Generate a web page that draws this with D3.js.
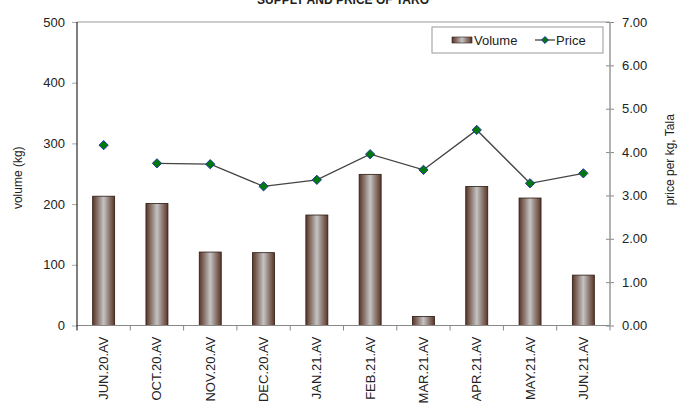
<!DOCTYPE html>
<html>
  <head>
    <meta charset="utf-8">
    <script src="https://cdn.jsdelivr.net/npm/d3@7"></script>
    <style>
      body { margin: 0; background: #fff; }
      text { font-family: "Liberation Sans", Arial, sans-serif; fill: #222; }
    </style>
  </head>
  <body>
    <script>
      // Data
      var months = ["JUN.20.AV", "OCT.20.AV", "NOV.20.AV", "DEC.20.AV", "JAN.21.AV",
                    "FEB.21.AV", "MAR.21.AV", "APR.21.AV", "MAY.21.AV", "JUN.21.AV"];
      var volume = [213, 201, 121, 120, 182, 249, 15, 229, 210, 83];
      var price = [4.16, 3.74, 3.72, 3.21, 3.36, 3.95, 3.59, 4.51, 3.28, 3.51];
      var volumeTicks = [0, 100, 200, 300, 400, 500];
      var priceTicks = [0, 1, 2, 3, 4, 5, 6, 7];

      var width = 679, height = 408;
      // plot area edges (don't call it "top", window.top is read-only)
      var plotL = 77, plotR = 610, plotT = 22, plotB = 325.5;

      var svg = d3.select("body").append("svg")
                  .attr("width", width)
                  .attr("height", height);

      // Bar gradient: brown edges, light grey centre
      var grad = svg.append("defs").append("linearGradient")
                    .attr("id", "barGrad")
                    .attr("x1", "0%").attr("x2", "100%")
                    .attr("y1", "0%").attr("y2", "0%");
      grad.append("stop").attr("offset", "0%").attr("stop-color", "#5b3526");
      grad.append("stop").attr("offset", "25%").attr("stop-color", "#8e7a72");
      grad.append("stop").attr("offset", "50%").attr("stop-color", "#c4c4c4");
      grad.append("stop").attr("offset", "75%").attr("stop-color", "#8e7a72");
      grad.append("stop").attr("offset", "100%").attr("stop-color", "#5b3526");

      var x = d3.scaleBand().domain(months).range([plotL, plotR]);
      var yVol = d3.scaleLinear().domain([0, 500]).range([plotB, plotT]);
      var yPrice = d3.scaleLinear().domain([0, 7]).range([plotB, plotT]);

      // Title (cut off at top of picture)
      svg.append("text")
         .attr("x", 343).attr("y", 4)
         .attr("text-anchor", "middle")
         .style("font-size", "12px")
         .style("font-weight", "bold")
         .text("SUPPLY AND PRICE OF TARO");

      // Top border
      svg.append("line")
         .attr("x1", plotL).attr("x2", plotR)
         .attr("y1", plotT).attr("y2", plotT)
         .attr("stroke", "#999").attr("stroke-width", 1);

      // Bars
      var barW = 22;
      svg.selectAll("rect.bar")
         .data(volume)
         .enter()
         .append("rect")
         .attr("class", "bar")
         .attr("x", function(d, i) { return x(months[i]) + x.bandwidth() / 2 - barW / 2; })
         .attr("y", function(d) { return yVol(d); })
         .attr("width", barW)
         .attr("height", function(d) { return plotB - yVol(d); })
         .attr("fill", "url(#barGrad)")
         .attr("stroke", "#2a1a12")
         .attr("stroke-width", 0.8);

      // Bottom axis with ticks between categories
      svg.append("line")
         .attr("x1", plotL).attr("x2", plotR)
         .attr("y1", plotB).attr("y2", plotB)
         .attr("stroke", "#888");
      svg.selectAll("line.xtick")
         .data(months)
         .enter()
         .append("line")
         .attr("class", "xtick")
         .attr("x1", function(d) { return x(d) + x.bandwidth(); })
         .attr("x2", function(d) { return x(d) + x.bandwidth(); })
         .attr("y1", plotB).attr("y2", plotB + 5)
         .attr("stroke", "#888");

      svg.selectAll("text.xlab")
         .data(months)
         .enter()
         .append("text")
         .attr("class", "xlab")
         .attr("text-anchor", "end")
         .attr("transform", function(d) {
           return "translate(" + (x(d) + x.bandwidth() / 2 + 4.5) + "," + (plotB + 11) + ") rotate(-90)";
         })
         .style("font-size", "13px")
         .text(function(d) { return d; });

      // Left axis
      var yAxisL = d3.axisLeft(yVol).tickValues(volumeTicks).tickSize(5).tickPadding(7);
      var gL = svg.append("g")
                  .attr("transform", "translate(" + plotL + ",0)")
                  .call(yAxisL);
      gL.select(".domain").remove();
      gL.selectAll(".tick line").attr("stroke", "#aaa");
      gL.selectAll("text").style("font-size", "13px").style("font-family", "Liberation Sans, Arial, sans-serif").attr("fill", "#222");
      svg.append("line")
         .attr("x1", plotL).attr("x2", plotL)
         .attr("y1", plotT).attr("y2", plotB + 5)
         .attr("stroke", "#000");

      // Right axis
      var yAxisR = d3.axisRight(yPrice).tickValues(priceTicks).tickSize(4).tickPadding(8)
                     .tickFormat(d3.format(".2f"));
      var gR = svg.append("g")
                  .attr("transform", "translate(" + plotR + ",0)")
                  .call(yAxisR);
      gR.select(".domain").remove();
      gR.selectAll(".tick line").attr("stroke", "#888").attr("x1", -4);
      gR.selectAll("text").style("font-size", "13px").style("font-family", "Liberation Sans, Arial, sans-serif").attr("fill", "#222");
      svg.append("line")
         .attr("x1", plotR).attr("x2", plotR)
         .attr("y1", plotT).attr("y2", plotB)
         .attr("stroke", "#999").attr("stroke-width", 1.5);

      // Axis titles
      svg.append("text")
         .attr("transform", "translate(22," + ((plotT + plotB) / 2 + 4) + ") rotate(-90)")
         .attr("text-anchor", "middle")
         .style("font-size", "12px")
         .text("volume (kg)");
      svg.append("text")
         .attr("transform", "translate(674," + ((plotT + plotB) / 2 - 14) + ") rotate(-90)")
         .attr("text-anchor", "middle")
         .style("font-size", "12px")
         .text("price per kg, Tala");

      // Price line (first point stands alone)
      var line = d3.line()
                   .x(function(d) { return x(d.m) + x.bandwidth() / 2; })
                   .y(function(d) { return yPrice(d.p); });
      var pts = months.map(function(m, i) { return { m: m, p: price[i] }; });
      svg.append("path")
         .datum(pts.slice(1))
         .attr("d", line)
         .attr("fill", "none")
         .attr("stroke", "#444")
         .attr("stroke-width", 1.3);

      var diamond = d3.symbol().type(d3.symbolDiamond2).size(55);
      svg.selectAll("path.pt")
         .data(pts)
         .enter()
         .append("path")
         .attr("class", "pt")
         .attr("d", diamond)
         .attr("transform", function(d) {
           return "translate(" + (x(d.m) + x.bandwidth() / 2) + "," + yPrice(d.p) + ")";
         })
         .attr("fill", "#007a10")
         .attr("stroke", "#1c2a9a")
         .attr("stroke-width", 0.9);

      // Legend
      var lg = svg.append("g");
      lg.append("rect")
        .attr("x", 432).attr("y", 27)
        .attr("width", 171).attr("height", 26)
        .attr("fill", "#fff")
        .attr("stroke", "#999");
      lg.append("rect")
        .attr("x", 452).attr("y", 37)
        .attr("width", 20).attr("height", 6)
        .attr("fill", "url(#barGrad)")
        .attr("stroke", "#2a1a12").attr("stroke-width", 0.6);
      lg.append("text")
        .attr("x", 474).attr("y", 45)
        .style("font-size", "13px")
        .text("Volume");
      lg.append("line")
        .attr("x1", 535).attr("x2", 555)
        .attr("y1", 40).attr("y2", 40)
        .attr("stroke", "#444").attr("stroke-width", 1.3);
      lg.append("path")
        .attr("d", d3.symbol().type(d3.symbolDiamond2).size(30))
        .attr("transform", "translate(545,40)")
        .attr("fill", "#007a10")
        .attr("stroke", "#1c2a9a");
      lg.append("text")
        .attr("x", 556).attr("y", 45)
        .style("font-size", "13px")
        .text("Price");
    </script>
  </body>
</html>
